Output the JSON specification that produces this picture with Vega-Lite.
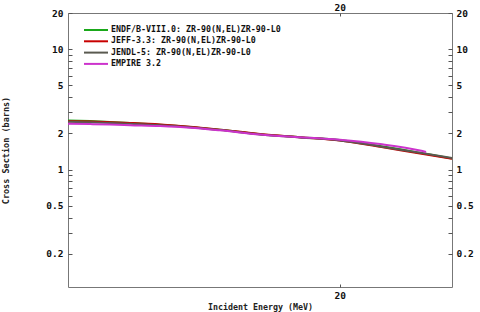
{
  "$schema": "https://vega.github.io/schema/vega-lite/v6.json",
  "width": 384,
  "height": 274,
  "autosize": {"type": "none"},
  "padding": {"left": 68, "top": 13, "right": 28, "bottom": 25},
  "background": "white",
  "config": {"view": {"stroke": "#777", "strokeWidth": 1}, "font": "DejaVu Sans Mono"},
  "data": {"values": [
    {"lib": "ENDF/B-VIII.0: ZR-90(N,EL)ZR-90-L0", "E": 11, "xs": 2.56},
    {"lib": "ENDF/B-VIII.0: ZR-90(N,EL)ZR-90-L0", "E": 11.55, "xs": 2.53},
    {"lib": "ENDF/B-VIII.0: ZR-90(N,EL)ZR-90-L0", "E": 12.06, "xs": 2.49},
    {"lib": "ENDF/B-VIII.0: ZR-90(N,EL)ZR-90-L0", "E": 12.61, "xs": 2.44},
    {"lib": "ENDF/B-VIII.0: ZR-90(N,EL)ZR-90-L0", "E": 13.47, "xs": 2.36},
    {"lib": "ENDF/B-VIII.0: ZR-90(N,EL)ZR-90-L0", "E": 14.39, "xs": 2.26},
    {"lib": "ENDF/B-VIII.0: ZR-90(N,EL)ZR-90-L0", "E": 15.37, "xs": 2.14},
    {"lib": "ENDF/B-VIII.0: ZR-90(N,EL)ZR-90-L0", "E": 16.78, "xs": 1.97},
    {"lib": "ENDF/B-VIII.0: ZR-90(N,EL)ZR-90-L0", "E": 18.33, "xs": 1.86},
    {"lib": "ENDF/B-VIII.0: ZR-90(N,EL)ZR-90-L0", "E": 20, "xs": 1.76},
    {"lib": "ENDF/B-VIII.0: ZR-90(N,EL)ZR-90-L0", "E": 21.85, "xs": 1.57},
    {"lib": "ENDF/B-VIII.0: ZR-90(N,EL)ZR-90-L0", "E": 23.86, "xs": 1.38},
    {"lib": "ENDF/B-VIII.0: ZR-90(N,EL)ZR-90-L0", "E": 25.6, "xs": 1.24},
    {"lib": "JEFF-3.3: ZR-90(N,EL)ZR-90-L0", "E": 11, "xs": 2.52},
    {"lib": "JEFF-3.3: ZR-90(N,EL)ZR-90-L0", "E": 11.55, "xs": 2.51},
    {"lib": "JEFF-3.3: ZR-90(N,EL)ZR-90-L0", "E": 12.06, "xs": 2.48},
    {"lib": "JEFF-3.3: ZR-90(N,EL)ZR-90-L0", "E": 12.61, "xs": 2.44},
    {"lib": "JEFF-3.3: ZR-90(N,EL)ZR-90-L0", "E": 13.47, "xs": 2.37},
    {"lib": "JEFF-3.3: ZR-90(N,EL)ZR-90-L0", "E": 14.39, "xs": 2.27},
    {"lib": "JEFF-3.3: ZR-90(N,EL)ZR-90-L0", "E": 15.37, "xs": 2.15},
    {"lib": "JEFF-3.3: ZR-90(N,EL)ZR-90-L0", "E": 16.78, "xs": 1.98},
    {"lib": "JEFF-3.3: ZR-90(N,EL)ZR-90-L0", "E": 18.33, "xs": 1.86},
    {"lib": "JEFF-3.3: ZR-90(N,EL)ZR-90-L0", "E": 20, "xs": 1.75},
    {"lib": "JEFF-3.3: ZR-90(N,EL)ZR-90-L0", "E": 21.85, "xs": 1.55},
    {"lib": "JEFF-3.3: ZR-90(N,EL)ZR-90-L0", "E": 23.86, "xs": 1.36},
    {"lib": "JEFF-3.3: ZR-90(N,EL)ZR-90-L0", "E": 25.6, "xs": 1.23},
    {"lib": "JENDL-5: ZR-90(N,EL)ZR-90-L0", "E": 11, "xs": 2.5},
    {"lib": "JENDL-5: ZR-90(N,EL)ZR-90-L0", "E": 11.55, "xs": 2.47},
    {"lib": "JENDL-5: ZR-90(N,EL)ZR-90-L0", "E": 12.06, "xs": 2.44},
    {"lib": "JENDL-5: ZR-90(N,EL)ZR-90-L0", "E": 12.61, "xs": 2.4},
    {"lib": "JENDL-5: ZR-90(N,EL)ZR-90-L0", "E": 13.47, "xs": 2.34},
    {"lib": "JENDL-5: ZR-90(N,EL)ZR-90-L0", "E": 14.39, "xs": 2.25},
    {"lib": "JENDL-5: ZR-90(N,EL)ZR-90-L0", "E": 15.37, "xs": 2.13},
    {"lib": "JENDL-5: ZR-90(N,EL)ZR-90-L0", "E": 16.78, "xs": 1.96},
    {"lib": "JENDL-5: ZR-90(N,EL)ZR-90-L0", "E": 18.33, "xs": 1.85},
    {"lib": "JENDL-5: ZR-90(N,EL)ZR-90-L0", "E": 20, "xs": 1.75},
    {"lib": "JENDL-5: ZR-90(N,EL)ZR-90-L0", "E": 21.85, "xs": 1.56},
    {"lib": "JENDL-5: ZR-90(N,EL)ZR-90-L0", "E": 23.86, "xs": 1.38},
    {"lib": "JENDL-5: ZR-90(N,EL)ZR-90-L0", "E": 25.6, "xs": 1.25},
    {"lib": "EMPIRE 3.2", "E": 11, "xs": 2.4},
    {"lib": "EMPIRE 3.2", "E": 11.55, "xs": 2.39},
    {"lib": "EMPIRE 3.2", "E": 12.06, "xs": 2.37},
    {"lib": "EMPIRE 3.2", "E": 12.61, "xs": 2.34},
    {"lib": "EMPIRE 3.2", "E": 13.47, "xs": 2.3},
    {"lib": "EMPIRE 3.2", "E": 14.39, "xs": 2.23},
    {"lib": "EMPIRE 3.2", "E": 15.37, "xs": 2.12},
    {"lib": "EMPIRE 3.2", "E": 16.78, "xs": 1.96},
    {"lib": "EMPIRE 3.2", "E": 18.33, "xs": 1.86},
    {"lib": "EMPIRE 3.2", "E": 20, "xs": 1.77},
    {"lib": "EMPIRE 3.2", "E": 21.85, "xs": 1.63},
    {"lib": "EMPIRE 3.2", "E": 23.86, "xs": 1.44},
    {"lib": "EMPIRE 3.2", "E": 24.18, "xs": 1.40}
  ]},
  "layer": [
    {
      "mark": {"type": "line", "strokeWidth": 2, "interpolate": "monotone"},
      "encoding": {
        "x": {"field": "E", "type": "quantitative",
          "scale": {"type": "log", "domain": [11, 25.6], "nice": false},
          "axis": {"orient": "bottom", "values": [20], "format": "~g", "title": "Incident Energy (MeV)",
            "grid": false, "domain": false, "tickSize": -3, "tickColor": "#555",
            "labelFont": "DejaVu Sans Mono", "labelFontSize": 9.5, "labelFontWeight": "bold", "labelColor": "#111",
            "labelPadding": 6, "labelFlush": false, "labelOverlap": false,
            "titleFont": "DejaVu Sans Mono", "titleFontSize": 8.3, "titleFontWeight": "bold", "titleColor": "#222", "titlePadding": 3}},
        "y": {"field": "xs", "type": "quantitative",
          "scale": {"type": "log", "domain": [0.106, 20], "nice": false},
          "axis": {"orient": "left", "values": [0.2, 0.3, 0.4, 0.5, 0.6, 0.7, 0.8, 0.9, 1, 2, 3, 4, 5, 6, 7, 8, 9, 10, 20],
            "format": "~g",
            "labelExpr": "indexof([0.2,0.5,1,2,5,10,20], datum.value) >= 0 ? datum.label : ''",
            "title": "Cross Section (barns)",
            "grid": false, "domain": false, "tickSize": -4, "tickColor": "#555",
            "labelFont": "DejaVu Sans Mono", "labelFontSize": 9.5, "labelFontWeight": "bold", "labelColor": "#111",
            "labelPadding": 9, "labelFlush": false, "labelOverlap": false, "labelBound": false,
            "titleFont": "DejaVu Sans Mono", "titleFontSize": 8.5, "titleFontWeight": "bold", "titleColor": "#222", "titlePadding": 35}},
        "color": {"field": "lib", "type": "nominal",
          "scale": {"domain": ["ENDF/B-VIII.0: ZR-90(N,EL)ZR-90-L0", "JEFF-3.3: ZR-90(N,EL)ZR-90-L0", "JENDL-5: ZR-90(N,EL)ZR-90-L0", "EMPIRE 3.2"],
                    "range": ["#1aa81a", "#c80000", "#5a5a50", "#cc33cc"]},
          "legend": {"orient": "none", "legendX": 23, "legendY": 12, "title": null,
            "symbolType": "M-3,0H3", "symbolSize": 64, "symbolStrokeWidth": 2, "symbolFillColor": "transparent", "padding": 0,
            "labelFont": "DejaVu Sans Mono", "labelFontSize": 8.3, "labelFontWeight": "bold", "labelColor": "#111",
            "labelOffset": 10, "labelLimit": 0, "rowPadding": 2.3}}
      }
    },
    {
      "mark": {"type": "point", "opacity": 0},
      "encoding": {
        "x": {"field": "E", "type": "quantitative",
          "scale": {"type": "log", "domain": [11, 25.6], "nice": false},
          "axis": {"orient": "top", "values": [20], "format": "~g", "title": null,
            "grid": false, "domain": false, "tickSize": -3, "tickColor": "#555",
            "labelFont": "DejaVu Sans Mono", "labelFontSize": 9.5, "labelFontWeight": "bold", "labelColor": "#111",
            "labelPadding": 4, "labelFlush": false, "labelOverlap": false}},
        "y": {"field": "xs", "type": "quantitative",
          "scale": {"type": "log", "domain": [0.106, 20], "nice": false},
          "axis": {"orient": "right", "values": [0.2, 0.3, 0.4, 0.5, 0.6, 0.7, 0.8, 0.9, 1, 2, 3, 4, 5, 6, 7, 8, 9, 10, 20],
            "format": "~g",
            "labelExpr": "indexof([0.2,0.5,1,2,5,10,20], datum.value) >= 0 ? datum.label : ''",
            "title": null,
            "grid": false, "domain": false, "tickSize": -4, "tickColor": "#555",
            "labelFont": "DejaVu Sans Mono", "labelFontSize": 9.5, "labelFontWeight": "bold", "labelColor": "#111",
            "labelPadding": 8, "labelFlush": false, "labelOverlap": false, "labelBound": false}}
      }
    }
  ],
  "resolve": {"axis": {"x": "independent", "y": "independent"}}
}
